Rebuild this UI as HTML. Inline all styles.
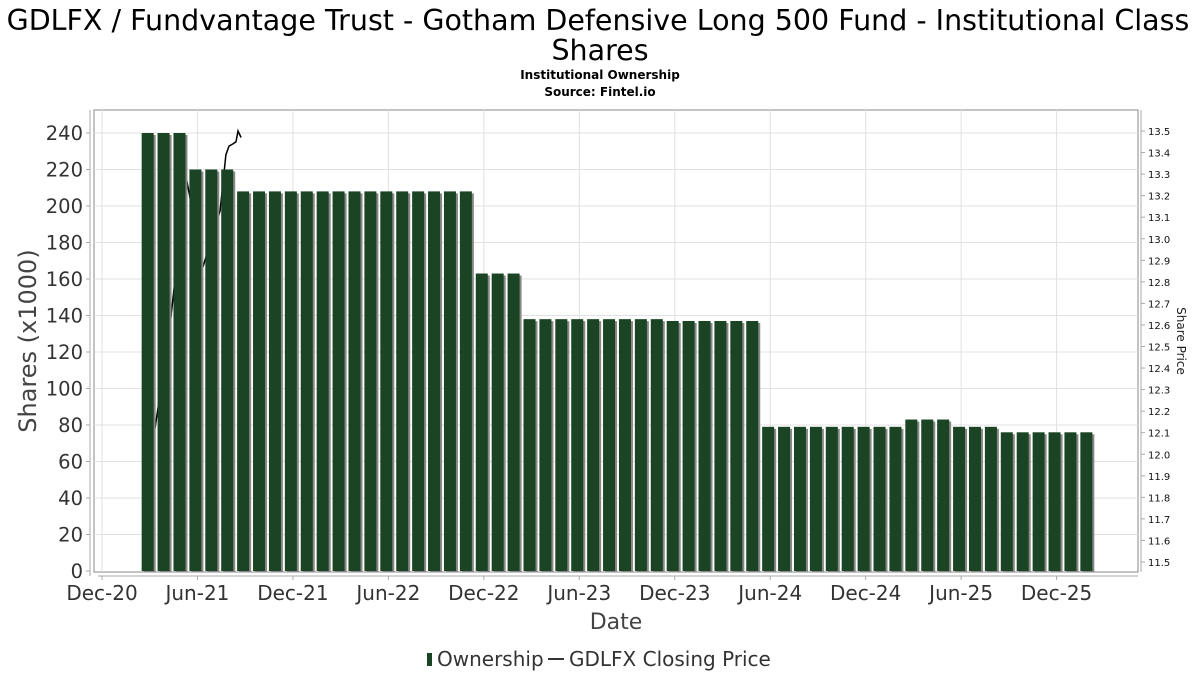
<!DOCTYPE html>
<html><head><meta charset="utf-8"><style>
body{margin:0;background:#fff;font-family:"DejaVu Sans","Liberation Sans",sans-serif;}
</style></head><body>
<svg id="c" width="1200" height="675" xmlns="http://www.w3.org/2000/svg" style="display:block">
<text x="598" y="30" text-anchor="middle" font-size="28.5" fill="#000">GDLFX / Fundvantage Trust - Gotham Defensive Long 500 Fund - Institutional Class</text>
<text x="600" y="60" text-anchor="middle" font-size="28.5" fill="#000">Shares</text>
<text x="600" y="79" text-anchor="middle" font-size="12" font-weight="bold">Institutional Ownership</text>
<text x="600" y="96" text-anchor="middle" font-size="12" font-weight="bold">Source: Fintel.io</text>
<g id="grid"></g><g id="line"></g><g id="bars"></g><g id="axes"></g>
<text transform="translate(36,341) rotate(-90)" text-anchor="middle" font-size="24" fill="#444">Shares (x1000)</text>
<text transform="translate(1177,341) rotate(90)" text-anchor="middle" font-size="12" fill="#222">Share Price</text>
<text x="616" y="629" text-anchor="middle" font-size="22" fill="#444">Date</text>
<g>
<rect x="427" y="653" width="5" height="13" fill="#1a4423"/>
<text x="437" y="666" font-size="20" fill="#333">Ownership</text>
<line x1="548" y1="659" x2="564" y2="659" stroke="#333" stroke-width="2"/>
<text x="569" y="666" font-size="20" fill="#333">GDLFX Closing Price</text>
</g>
</svg>
<script>
const barMonths=["2021-03","2021-04","2021-05","2021-06","2021-07","2021-08","2021-09","2021-10","2021-11","2021-12","2022-01","2022-02","2022-03","2022-04","2022-05","2022-06","2022-07","2022-08","2022-09","2022-10","2022-11","2022-12","2023-01","2023-02","2023-03","2023-04","2023-05","2023-06","2023-07","2023-08","2023-09","2023-10","2023-11","2023-12","2024-01","2024-02","2024-03","2024-04","2024-05","2024-06","2024-07","2024-08","2024-09","2024-10","2024-11","2024-12","2025-01","2025-02","2025-03","2025-04","2025-05","2025-06","2025-07","2025-08","2025-09","2025-10","2025-11","2025-12","2026-01","2026-02"];
const ownership=[240,240,240,220,220,220,208,208,208,208,208,208,208,208,208,208,208,208,208,208,208,163,163,163,138,138,138,138,138,138,138,138,138,137,137,137,137,137,137,79,79,79,79,79,79,79,79,79,83,83,83,79,79,79,76,76,76,76,76,76];
const priceMonths=[3.33,4.27,5.28,6.35,7.42,7.79,7.98,8.23,8.42,8.55,8.74];
const prices=[12.12,12.59,13.29,12.87,13.13,13.39,13.43,13.44,13.45,13.5,13.47];
const yTicks=[0,20,40,60,80,100,120,140,160,180,200,220,240];
const pTicks=[11.5,11.6,11.7,11.8,11.9,12.0,12.1,12.2,12.3,12.4,12.5,12.6,12.7,12.8,12.9,13.0,13.1,13.2,13.3,13.4,13.5];
const xTickLabels=["Dec-20","Jun-21","Dec-21","Jun-22","Dec-22","Jun-23","Dec-23","Jun-24","Dec-24","Jun-25","Dec-25"];

const NS="http://www.w3.org/2000/svg";
const L=94,R=1138,T=110,B=572;
const x=m=>102+15.91*m;
const y=v=>571-v*(438/240);
const yp=p=>562-(p-11.5)*(431/2);
function el(t,a,p){const e=document.createElementNS(NS,t);for(const k in a)e.setAttribute(k,a[k]);p.appendChild(e);return e;}
const grid=document.getElementById('grid'),axes=document.getElementById('axes'),bars=document.getElementById('bars'),line=document.getElementById('line');
el('rect',{x:L,y:T,width:R-L,height:B-T,fill:'#fff',stroke:'#888'},grid);
yTicks.forEach(v=>{
 if(v>0){const g=el('line',{x1:L,x2:R,y1:y(v),y2:y(v),stroke:'#e0e0e0'},grid);
 
 }
 el('line',{x1:86,x2:90,y1:y(v),y2:y(v),stroke:'#aaa'},axes);
 const t=el('text',{x:83,y:y(v)+7,'text-anchor':'end','font-size':19.5,fill:'#333'},axes);t.textContent=v;
 
 
});
el('line',{x1:90,x2:90,y1:T,y2:576,stroke:'#aaa'},axes);
el('line',{x1:98,x2:R,y1:576,y2:576,stroke:'#aaa'},axes);
xTickLabels.forEach((s,i)=>{
 const xx=x(i*6);
 const g=el('line',{x1:xx,x2:xx,y1:T,y2:B,stroke:'#e0e0e0'},grid);
 
 
 el('line',{x1:xx,x2:xx,y1:576,y2:580,stroke:'#aaa'},axes);
 const t=el('text',{x:xx,y:600,'text-anchor':'middle','font-size':20,fill:'#333'},axes);t.textContent=s;
 
 
});
el('line',{x1:1141,x2:1141,y1:T,y2:B,stroke:'#aaa'},axes);
pTicks.forEach(p=>{
 el('line',{x1:1141,x2:1145,y1:yp(p),y2:yp(p),stroke:'#aaa'},axes);
 const t=el('text',{x:1148,y:yp(p)+4,'font-size':10,fill:'#111'},axes);t.textContent=p.toFixed(1);
 
 
});
const pts=priceMonths.map((m,i)=>x(m).toFixed(1)+','+yp(prices[i]).toFixed(1)).join(' ');
const pl=el('polyline',{points:pts,fill:'none',stroke:'#000','stroke-width':1.5},line);


ownership.forEach((v,i)=>{
 const cx=x(2.87+i);
 el('rect',{x:cx-4,y:y(v)+2,width:12,height:571-y(v)-1,fill:'#888'},bars);
 const r=el('rect',{x:cx-6,y:y(v),width:12,height:571-y(v),fill:'#1a4423'},bars);
 
 
});
</script>
</body></html>
